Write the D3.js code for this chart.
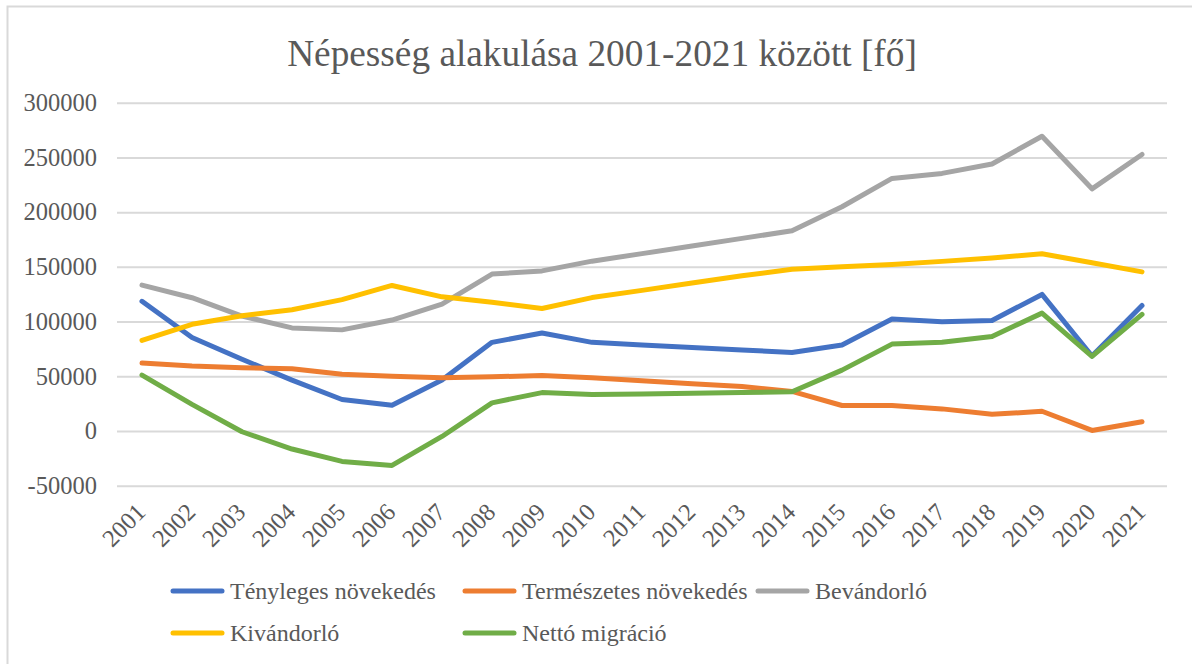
<!DOCTYPE html>
<html>
<head>
<meta charset="utf-8">
<script src="https://cdn.jsdelivr.net/npm/d3@7"></script>
<style>
  body { margin: 0; background: #fff; }
  svg { display: block; font-family: "Liberation Serif", "Times New Roman", serif; }
  svg text { font-family: "Liberation Serif", "Times New Roman", serif; }
</style>
</head>
<body>
<svg id="chart" width="1192" height="664"></svg>
<script>
const years = ["2001","2002","2003","2004","2005","2006","2007","2008","2009","2010","2011",
  "2012","2013","2014","2015","2016","2017","2018","2019","2020","2021"];

const tenyleges = [118500, 85500, 65500, 46500, 28800, 23500, 46500, 81000, 89500, 81000, 78600,
  76400, 74100, 71800, 78500, 102300, 99800, 101000, 124800, 68500, 114700];
const termeszetes = [62100, 59300, 57800, 56900, 51900, 50100, 48600, 49500, 50700, 48600, 46000,
  43200, 40600, 36200, 23300, 23300, 20200, 15200, 18000, 500, 8500];
const bevandorlo = [133300, 121800, 105000, 94200, 92400, 101400, 116000, 143400, 146300, 155200, 162100,
  169000, 176000, 182900, 204900, 230800, 235400, 244000, 269300, 221300, 252700];
const kivandorlo = [82800, 97500, 105300, 110800, 120000, 133000, 122600, 117600, 111900, 121900, 128500,
  135200, 141800, 147800, 150000, 152100, 155000, 158000, 162000, 153700, 145400];
const netto = [51100, 24300, -700, -16500, -27800, -31500, -5000, 25700, 35100, 33300, 33900,
  34500, 35100, 35800, 55600, 79400, 81000, 86400, 107700, 68200, 106500];

const yTicks = [-50000, 0, 50000, 100000, 150000, 200000, 250000, 300000];

const series = [
  { name: "Tényleges növekedés", values: tenyleges, color: "#4472C4" },
  { name: "Természetes növekedés", values: termeszetes, color: "#ED7D31" },
  { name: "Bevándorló", values: bevandorlo, color: "#A5A5A5" },
  { name: "Kivándorló", values: kivandorlo, color: "#FFC000" },
  { name: "Nettó migráció", values: netto, color: "#70AD47" }
];

const svg = d3.select("#chart");
const serif = "'Liberation Serif', 'Times New Roman', serif";

// outer frame (only top and left edge are inside the picture)
svg.append("rect")
  .attr("x", 7.5).attr("y", 6.5)
  .attr("width", 1200).attr("height", 700)
  .attr("fill", "none")
  .attr("stroke", "#D9D9D9")
  .attr("stroke-width", 2);

svg.append("text")
  .attr("x", 602)
  .attr("y", 66)
  .attr("text-anchor", "middle")
  .attr("font-size", 37.3)
  .attr("fill", "#595959")
  .text("Népesség alakulása 2001-2021 között [fő]");

const x = d3.scaleBand().domain(years).range([117, 1167]);
const y = d3.scaleLinear().domain([-50000, 300000]).range([485.7, 102.7]);
const cx = d => x(d) + x.bandwidth() / 2;

// grid + y labels
const yAxis = svg.append("g")
  .attr("transform", "translate(117,0)")
  .call(d3.axisLeft(y).tickValues(yTicks).tickSize(-1050).tickPadding(20).tickFormat(d => String(d)));
yAxis.attr("font-family", serif).attr("font-size", 24.5);
yAxis.select(".domain").remove();
yAxis.selectAll(".tick line").attr("stroke", "#D9D9D9").attr("stroke-width", 2);
yAxis.selectAll(".tick text")
  .style("font-family", serif)
  .style("font-size", "24.5px")
  .attr("fill", "#595959");

// x labels
const xAxis = svg.append("g")
  .attr("transform", "translate(0,485.7)")
  .call(d3.axisBottom(x).tickSize(0).tickPadding(0));
xAxis.attr("font-family", serif).attr("font-size", 24.5);
xAxis.select(".domain").remove();
xAxis.selectAll(".tick text")
  .style("font-family", serif)
  .style("font-size", "24.5px")
  .attr("fill", "#595959")
  .attr("text-anchor", "end")
  .attr("dy", null)
  .attr("y", 0)
  .attr("transform", "translate(5,28) rotate(-45)");

const line = d3.line()
  .x((d, i) => cx(years[i]))
  .y(d => y(d));

series.forEach(s => {
  svg.append("path")
    .datum(s.values)
    .attr("fill", "none")
    .attr("stroke", s.color)
    .attr("stroke-width", 5)
    .attr("stroke-linejoin", "round")
    .attr("stroke-linecap", "round")
    .attr("d", line);
});

// legend
const legendPos = [[173, 591], [465, 591], [758, 591], [173, 633], [465, 633]];
series.forEach((s, i) => {
  const [lx, ly] = legendPos[i];
  const g = svg.append("g").attr("transform", `translate(${lx},${ly})`);
  g.append("line")
    .attr("x1", 0).attr("x2", 49)
    .attr("stroke", s.color)
    .attr("stroke-width", 5)
    .attr("stroke-linecap", "round");
  g.append("text")
    .attr("x", 57)
    .attr("dy", "0.33em")
    .attr("font-size", 24)
    .attr("fill", "#595959")
    .text(s.name);
});
</script>
</body>
</html>
